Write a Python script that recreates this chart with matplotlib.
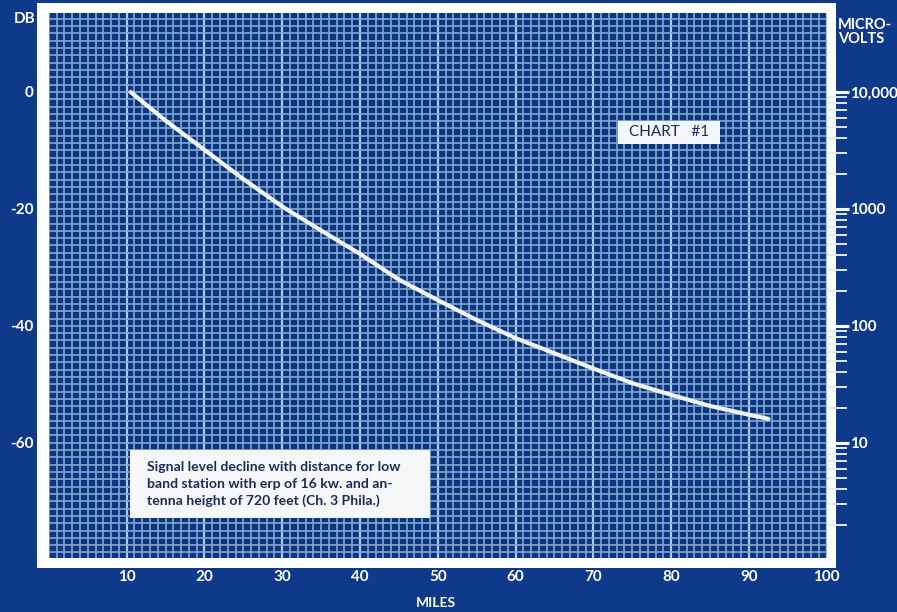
import numpy as np
import matplotlib
matplotlib.use("Agg")
import matplotlib.pyplot as plt
from matplotlib.patches import Rectangle
from matplotlib.ticker import MultipleLocator, FixedLocator, NullFormatter

# 曲線データ
miles = [10.5, 15, 20, 25, 30, 35, 40, 45, 50, 55, 60, 65, 70, 75, 80, 85, 90, 92.5]
db = [0, -4.9, -9.9, -14.9, -19.6, -23.7, -27.7, -32.1, -35.6, -39.0,
      -42.1, -44.7, -47.3, -49.8, -51.8, -53.7, -55.2, -55.9]

x_ticks = [10, 20, 30, 40, 50, 60, 70, 80, 90, 100]
db_ticks = [0, -20, -40, -60]
uv_ticks = [10, 100, 1000, 10000]
uv_labels = ["10", "100", "1000", "10,000"]
caption = ["Signal level decline with distance for low",
           "band station with erp of 16 kw. and an-",
           "tenna height of 720 feet (Ch. 3 Phila.)"]

W, H = 897, 612
BG = "#0f3a8c"
CELL = "#0d3581"
GRID = "#80a9cf"
INK = "#1b2c5c"
FONT = ["Lato", "DejaVu Sans"]

plt.rcParams["font.family"] = FONT
plt.rcParams["font.weight"] = "bold"
plt.rcParams["axes.unicode_minus"] = False


def fx(x):
    return x / W


def fy(y):
    return 1 - y / H


fig = plt.figure(figsize=(W / 100, H / 100), dpi=100, facecolor=BG)

# 白い枠
fig.patches.append(Rectangle((fx(37), fy(568)), fx(836) - fx(37), fy(3) - fy(568),
                             transform=fig.transFigure, facecolor="white",
                             edgecolor="none", zorder=0))

ax = fig.add_axes([fx(48.9), fy(558), fx(826.7) - fx(48.9), fy(13) - fy(558)])
ax.set_zorder(1)
ax.set_facecolor(CELL)
ax.set_xlim(0, 100)
ylim = (-79.7, 13.5)
ax.set_ylim(*ylim)

ax.xaxis.set_major_locator(FixedLocator(x_ticks))
ax.xaxis.set_minor_locator(MultipleLocator(1))
ax.yaxis.set_major_locator(FixedLocator(db_ticks))
ax.yaxis.set_minor_locator(MultipleLocator(1.25))
ax.grid(True, which="minor", color=GRID, linewidth=1.2)
ax.grid(True, which="major", axis="y", color=GRID, linewidth=1.2)
ax.grid(True, which="major", axis="x", color="#b0cce4", linewidth=1.6)
ax.set_axisbelow(True)
for s in ax.spines.values():
    s.set_visible(False)

ax.tick_params(which="both", length=0)
ax.tick_params(axis="y", pad=11, labelcolor="white", labelsize=11)
ax.tick_params(axis="x", pad=8.5, labelcolor="white", labelsize=11)

ax.plot(miles, db, color="#f2f6fa", linewidth=3.0, solid_capstyle="round", zorder=5)

# 右軸（マイクロボルト, 0 dB = 10,000 µV）
ax2 = ax.twinx()
ax2.set_zorder(2)
ax2.set_yscale("log")
ax2.set_ylim(10000 * 10 ** (ylim[0] / 20), 10000 * 10 ** (ylim[1] / 20))
ax2.yaxis.set_major_locator(FixedLocator(uv_ticks))
ax2.set_yticklabels(uv_labels)
minor_uv = [m * d for d in [1, 10, 100, 1000] for m in range(2, 10)] + [1]
ax2.yaxis.set_minor_locator(FixedLocator(minor_uv))
ax2.yaxis.set_minor_formatter(NullFormatter())
ax2.tick_params(axis="y", which="major", length=16, width=2.2, color="white",
                pad=0.5, labelcolor="white", labelsize=11)
ax2.tick_params(axis="y", which="minor", length=14.5, width=1.4, color="#e4ecf4")
for s in ax2.spines.values():
    s.set_visible(False)

# ラベル
fig.text(fx(25), fy(19), "DB", color="white", fontsize=11,
         ha="center", va="center")
fig.text(fx(838), fy(32), "MICRO-\nVOLTS", color="white", fontsize=10.5,
         ha="left", va="center", linespacing=1.0)
fig.text(fx(436), fy(603), "MILES", color="white", fontsize=10,
         ha="center", va="center")

# CHART #1
fig.patches.append(Rectangle((fx(618), fy(144)), fx(720) - fx(618), fy(121) - fy(144),
                             transform=fig.transFigure, facecolor="#f4f6f8",
                             edgecolor="none", zorder=3))
fig.text(fx(669), fy(132.5), "CHART   #1", color=INK, fontsize=11, fontweight="normal",
         ha="center", va="center", zorder=4)

# 説明ボックス
fig.patches.append(Rectangle((fx(130), fy(518)), fx(430) - fx(130), fy(450) - fy(518),
                             transform=fig.transFigure, facecolor="#f6f7f8",
                             edgecolor="none", zorder=3))
for i, line in enumerate(caption):
    fig.text(fx(147), fy(467 + 16.7 * i), line, color=INK, fontsize=10.1,
             ha="left", va="center", zorder=4)

fig.savefig("out.png", dpi=100, facecolor=BG)
